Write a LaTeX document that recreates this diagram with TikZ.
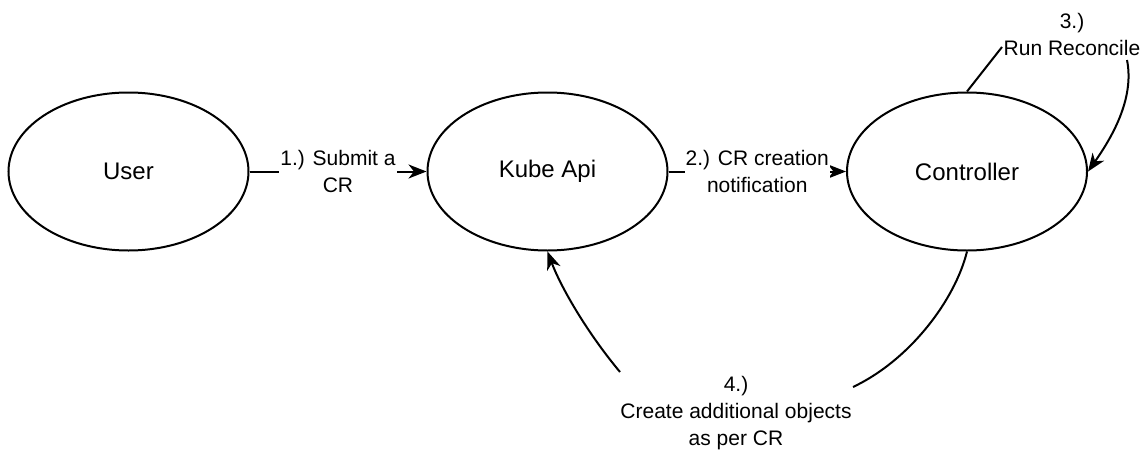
\documentclass[tikz,border=0pt]{standalone}
\usepackage{fontspec}
\setmainfont{Liberation Sans}
\usetikzlibrary{shapes.geometric,arrows.meta}
\begin{document}
\begin{tikzpicture}[x=1pt,y=-1pt,
  state/.style={ellipse, draw, line width=2pt, minimum width=240pt, minimum height=158pt,
    inner sep=0pt, font=\fontsize{24}{29}\selectfont},
  flow/.style={line width=2pt, -{Stealth[length=18pt,width=14pt,inset=5.5pt]}},
  tag/.style={inner sep=1pt, align=center, font=\fontsize{21}{27}\selectfont},
  midtag/.style={tag, fill=white}]
\useasboundingbox (0,0) rectangle (1146,450);

% the three actors
\node[state] (user) at (128.5,171.5) {User};
\node[state] (kube) at (547.5,171.5) {Kube Api};
\node[state] (ctrl) at (967,171.5) {Controller};

% steps 1 and 2
\draw[flow] (user) -- node[midtag] {1.) Submit a\\CR} (kube);
\draw[flow] (kube) -- node[midtag] {2.) CR creation\\notification} (ctrl);

% step 3: reconcile loop
\node[tag] (lbl3) at (1072,34) {3.)\\Run Reconcile};
\coordinate (r3in) at (1002,47);
\coordinate (r3out) at (1127,60);
\draw[flow] (ctrl.north) -- (r3in)
  (r3out) .. controls (1135,100) and (1110,140) .. (ctrl.east);

% step 4: controller creates further objects
\node[tag] (lbl4) at (736,413) {4.)\\Create additional objects\\as per CR};
\coordinate (r4in) at (853,387);
\coordinate (r4out) at (620,372);
\draw[flow] (ctrl.south) .. controls (955,300) and (910,360) .. (r4in)
  (r4out) .. controls (585,330) and (560,285) .. (kube.south);
\end{tikzpicture}
\end{document}
